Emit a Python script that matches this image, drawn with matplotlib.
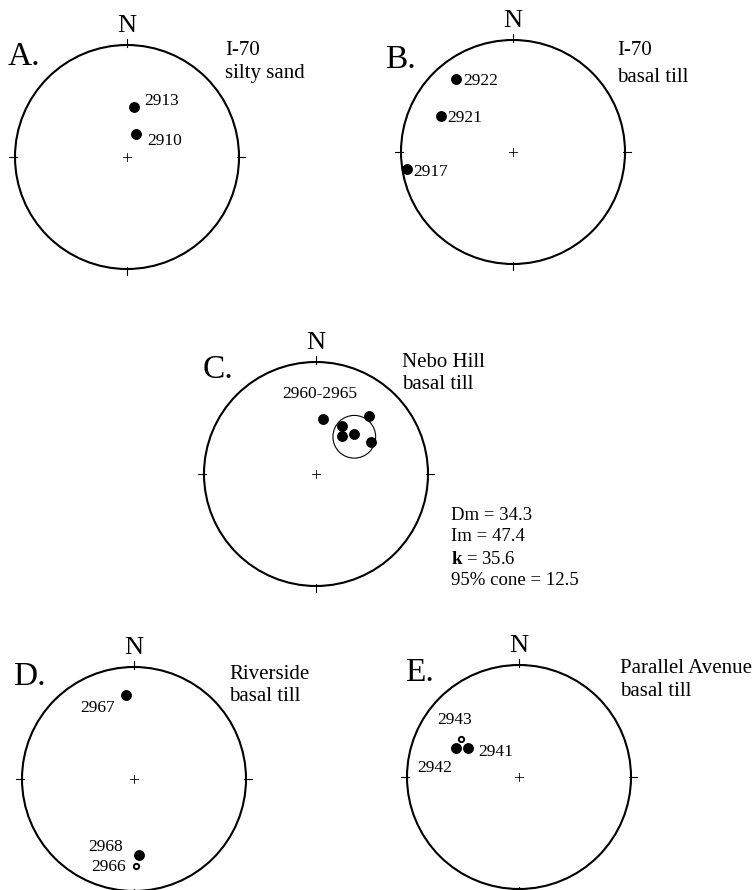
import numpy as np
import matplotlib
matplotlib.use('Agg')
import matplotlib.pyplot as plt
from matplotlib.patches import Circle

plt.rcParams['font.family'] = 'Liberation Serif'
plt.rcParams['mathtext.fontset'] = 'custom'
plt.rcParams['mathtext.rm'] = 'Liberation Serif'
plt.rcParams['mathtext.bf'] = 'Liberation Serif:bold'

W, H = 755, 890
R = 112  # net radius, pixels

# site data: declination / inclination (negative inc = upper hemisphere, open symbol)
a_ids = ['2913', '2910']
a_dec = [7.7, 21.0]
a_inc = [52.9, 71.9]

b_ids = ['2922', '2921', '2917']
b_dec = [322.1, 296.2, 261.0]
b_inc = [18.8, 28.8, 5.1]

c_dec = [7.6, 28.6, 34.2, 43.3, 42.1, 59.5]
c_inc = [49.3, 49.9, 56.0, 49.4, 30.5, 42.5]
c_cone_dec = 45.8
c_cone_inc = 50.6
c_cone_radius = 15.5
c_stats = ['Dm = 34.3', 'Im = 47.4', r'$\mathbf{k}$ = 35.6', '95% cone = 12.5']

d_ids = ['2967', '2968', '2966']
d_dec = [354.4, 176.2, 178.9]
d_inc = [25.6, 32.2, -23.7]

e_ids = ['2943', '2942', '2941']
e_dec = [303.6, 294.4, 299.4]
e_inc = [-38.2, 38.0, 46.7]


def proj(dec, inc):
    # equal-area (Schmidt) projection
    dec = np.radians(np.asarray(dec, float))
    inc = np.radians(np.abs(np.asarray(inc, float)))
    r = np.sqrt(2) * np.sin((np.pi / 2 - inc) / 2)
    return r * np.sin(dec), r * np.cos(dec)


fig = plt.figure(figsize=(W / 100, H / 100), dpi=100)


def make_net(cx, cy, letter, lx, ly):
    k = 1.1
    ax = fig.add_axes([(cx - k * R) / W, 1 - (cy + k * R) / H, 2 * k * R / W, 2 * k * R / H])
    ax.set_xlim(-k, k)
    ax.set_ylim(-k, k)
    ax.set_aspect('equal')
    ax.axis('off')
    ax.add_patch(Circle((0, 0), 1, fill=False, lw=1.5, color='black'))
    for a in np.radians([0, 90, 180, 270]):
        ax.plot([0.985 * np.sin(a), 1.05 * np.sin(a)], [0.985 * np.cos(a), 1.05 * np.cos(a)],
                color='black', lw=0.8, clip_on=False)
    ax.plot([-0.035, 0.035], [0, 0], color='black', lw=0.6)
    ax.plot([0, 0], [-0.035, 0.035], color='black', lw=0.6)
    ax.text(0, 1.12, 'N', fontsize=19, ha='center', va='baseline')
    ax.text(lx, ly, letter, fontsize=24, ha='left', va='baseline')
    return ax


def dots(ax, dec, inc):
    for d, i in zip(dec, inc):
        x, y = proj(d, i)
        if i < 0:
            ax.plot(x, y, 'o', ms=3.8, mfc='white', mec='black', mew=1.4, clip_on=False)
        else:
            ax.plot(x, y, 'o', ms=6.8, color='black', clip_on=False)


num = dict(fontsize=12.5, va='baseline')
site = dict(fontsize=15, ha='left', va='baseline')

# A
ax = make_net(127, 157, 'A.', -1.07, 0.82)
dots(ax, a_dec, a_inc)
ax.text(0.155, 0.46, a_ids[0], ha='left', **num)
ax.text(0.18, 0.11, a_ids[1], ha='left', **num)
ax.text(0.875, 0.91, 'I-70', **site)
ax.text(0.875, 0.705, 'silty sand', **site)

# B
ax = make_net(513, 152, 'B.', -1.14, 0.75)
dots(ax, b_dec, b_inc)
ax.text(-0.446, 0.595, b_ids[0], ha='left', **num)
ax.text(-0.589, 0.264, b_ids[1], ha='left', **num)
ax.text(-0.893, -0.215, b_ids[2], ha='left', **num)
ax.text(0.93, 0.866, 'I-70', **site)
ax.text(0.93, 0.625, 'basal till', **site)

# C
ax = make_net(316, 474, 'C.', -1.01, 0.857)
dots(ax, c_dec, c_inc)
mx, my = proj(c_cone_dec, c_cone_inc)
ax.add_patch(Circle((mx, my), np.sqrt(2) * np.sin(np.radians(c_cone_radius) / 2),
                    fill=False, lw=0.8, color='black'))
ax.text(0.03, 0.676, '2960-2965', ha='center', **num)
ax.text(0.765, 0.952, 'Nebo Hill', **site)
ax.text(0.765, 0.759, 'basal till', **site)
for s, y in zip(c_stats, [-0.41, -0.60, -0.80, -0.99]):
    ax.text(1.205, y, s, fontsize=13.5, ha='left', va='baseline')

# D
ax = make_net(134, 779, 'D.', -1.08, 0.84)
dots(ax, d_dec, d_inc)
ax.text(-0.173, 0.595, d_ids[0], ha='right', **num)
ax.text(-0.098, -0.64, d_ids[1], ha='right', **num)
ax.text(-0.074, -0.82, d_ids[2], ha='right', **num)
ax.text(0.85, 0.89, 'Riverside', **site)
ax.text(0.85, 0.70, 'basal till', **site)

# E
ax = make_net(519, 777, 'E.', -1.02, 0.86)
dots(ax, e_dec, e_inc)
ax.text(-0.574, 0.473, e_ids[0], ha='center', **num)
ax.text(-0.60, 0.041, e_ids[1], ha='right', **num)
ax.text(-0.366, 0.184, e_ids[2], ha='left', **num)
ax.text(0.90, 0.93, 'Parallel Avenue', **site)
ax.text(0.90, 0.72, 'basal till', **site)

fig.savefig('out.png', dpi=100)
